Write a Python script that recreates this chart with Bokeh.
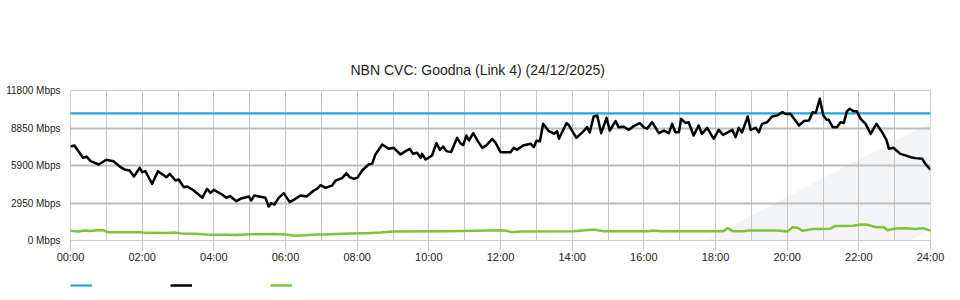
from bokeh.plotting import figure
from bokeh.layouts import column
from bokeh.models import (FixedTicker, Range1d, Legend, LegendItem, PolyAnnotation)
from bokeh.embed import file_html
from bokeh.resources import INLINE

# ---------------- data ----------------
TITLE = "NBN CVC: Goodna (Link 4) (24/12/2025)"

x_ticks = [0, 2, 4, 6, 8, 10, 12, 14, 16, 18, 20, 22, 24]
x_tick_labels = ["00:00", "02:00", "04:00", "06:00", "08:00", "10:00", "12:00",
                 "14:00", "16:00", "18:00", "20:00", "22:00", "24:00"]
y_ticks = [0, 2950, 5900, 8850, 11800]
y_tick_labels = ["0 Mbps", "2950 Mbps", "5900 Mbps", "8850 Mbps", "11800 Mbps"]

capacity_hours = [0, 24]
capacity_mbps = [10000, 10000]

traffic_hours = [
    0.00, 0.11, 0.35, 0.45, 0.56, 0.79, 1.00, 1.20, 1.40, 1.53, 1.65, 1.77, 1.93, 2.00,
    2.09, 2.28, 2.44, 2.68, 2.77, 2.93, 3.02, 3.16, 3.26, 3.44, 3.68, 3.81, 3.91, 4.00,
    4.23, 4.35, 4.45, 4.63, 4.74, 4.98, 5.04, 5.13, 5.44, 5.53, 5.60, 5.69, 5.81, 5.95,
    6.12, 6.23, 6.42, 6.59, 6.79, 6.88, 6.98, 7.12, 7.30, 7.40, 7.58, 7.70, 7.79, 7.91,
    8.01, 8.14, 8.32, 8.42, 8.51, 8.70, 8.88, 9.02, 9.21, 9.35, 9.47, 9.56, 9.67, 9.77,
    9.81, 9.91, 10.09, 10.21, 10.31, 10.40, 10.49, 10.62, 10.79, 10.88, 10.96, 11.05,
    11.12, 11.24, 11.35, 11.49, 11.61, 11.77, 11.86, 12.00, 12.28, 12.37, 12.46, 12.63,
    12.84, 12.93, 13.00, 13.10, 13.19, 13.35, 13.49, 13.58, 13.63, 13.84, 13.90, 14.12,
    14.32, 14.42, 14.49, 14.60, 14.70, 14.81, 14.96, 15.05, 15.21, 15.30, 15.44, 15.58,
    15.72, 15.89, 16.00, 16.09, 16.23, 16.42, 16.56, 16.70, 16.79, 16.88, 16.98, 17.04,
    17.16, 17.25, 17.39, 17.53, 17.62, 17.77, 17.95, 18.09, 18.21, 18.34, 18.47, 18.56,
    18.65, 18.74, 18.90, 18.98, 19.12, 19.21, 19.30, 19.44, 19.58, 19.72, 19.87, 19.96,
    20.09, 20.33, 20.47, 20.61, 20.71, 20.80, 20.91, 21.01, 21.10, 21.16, 21.27, 21.39,
    21.49, 21.58, 21.67, 21.75, 21.85, 21.94, 22.05, 22.19, 22.33, 22.49, 22.65, 22.77,
    22.84, 22.97, 23.05, 23.16, 23.30, 23.44, 23.58, 23.77, 23.86, 24.00]
traffic_mbps = [
    7395, 7473, 6505, 6600, 6250, 5979, 6348, 6240, 5768, 5560, 5507, 5035, 5717, 5375,
    5455, 4458, 5455, 4983, 5245, 4720, 4800, 4196, 4247, 3933, 3357, 4067, 3750, 3986,
    3619, 3357, 3500, 3094, 3278, 3461, 3147, 3540, 3357, 2675, 2937, 2832, 3357, 3723,
    3015, 3199, 3540, 3461, 3933, 4067, 4350, 4143, 4327, 4720, 4904, 5297, 4983, 4852,
    4950, 5507, 5979, 6050, 6766, 7552, 7212, 7290, 6766, 7029, 7212, 6818, 6900, 6505,
    6818, 6372, 6687, 7656, 7133, 7395, 7029, 6950, 8080, 7656, 7500, 8260,
    7867, 8441, 7900, 7290, 7500, 8000, 7700, 6950, 6950, 7290, 7150, 7473,
    7604, 7341, 7850, 7800, 9178, 8600, 8400, 8600, 8000, 9230, 9100, 8080,
    8600, 8915, 8500, 9755, 9833, 8441, 9650, 8653, 9387, 8900, 8950, 8705,
    9000, 9230, 8900, 8800, 9309, 8441, 8650, 8441, 9178, 8520, 8520, 9570,
    9250, 9300, 8260, 9047, 8390, 8862, 8000, 8705, 8300, 8500, 8700, 8129,
    8862, 8500, 9755, 8705, 8862, 8520, 9178, 9300, 9755, 9833, 10094, 9950,
    9963, 9047, 9400, 9440, 10094, 10050, 11147, 9833, 9500, 9492, 8915, 8915,
    9309, 9250, 10172, 10361, 10172, 10172, 9570, 9178, 8390, 9178, 8520, 7920,
    7212, 7290, 7080, 6818, 6700, 6555, 6480, 6425, 6031, 5560]

upload_hours = [
    0.00, 0.22, 0.39, 0.56, 0.73, 0.92, 1.06, 1.95, 2.09, 2.65, 2.93, 3.07, 3.49, 3.77,
    4.05, 4.33, 4.60, 4.88, 5.11, 5.72, 6.00, 6.28, 6.56, 6.84, 7.12, 7.40, 7.81, 8.23,
    8.65, 9.01, 10.52, 11.30, 12.00, 12.17, 12.33, 12.56, 14.04, 14.60, 14.87, 16.10,
    16.27, 16.47, 18.22, 18.33, 18.50, 18.78, 18.92, 19.73, 20.01, 20.15, 20.29, 20.43,
    20.73, 21.21, 21.35, 21.85, 22.05, 22.24, 22.47, 22.69, 22.80, 23.02, 23.30, 23.58,
    23.78, 24.00]
upload_mbps = [
    760, 700, 790, 740, 810, 800, 640, 640, 600, 590, 620, 560, 540, 470,
    450, 460, 430, 470, 500, 520, 470, 380, 420, 480, 470, 520, 560, 580,
    620, 700, 720, 770, 800, 760, 640, 700, 720, 860, 720, 720,
    790, 720, 720, 970, 720, 720, 790, 790, 700, 1050, 1000, 760,
    900, 930, 1150, 1160, 1260, 1240, 1050, 1060, 800, 950, 960, 900,
    970, 780]

# ---------------- styling ----------------
FONT = "Liberation Sans"
BLUE = "#22a5de"
BLACK = "#000000"
GREEN = "#80c23a"
SERIES_STYLE = [(BLUE, 2.2), (BLACK, 2.5), (GREEN, 2.5)]

W = 960
H_MAIN, H_LEG = 270, 30
LEFT, RIGHT, TOP, BOTTOM = 70, 30, 90, 30
X0, X1 = 0, 24
Y0, Y1 = 0, 11800

p = figure(width=W, height=H_MAIN, output_backend="svg", toolbar_location=None,
           x_range=Range1d(X0, X1), y_range=Range1d(Y0, Y1),
           min_border_left=LEFT, min_border_right=RIGHT,
           min_border_top=TOP, min_border_bottom=BOTTOM,
           title=TITLE)
p.background_fill_color = "white"
p.border_fill_color = "white"
p.outline_line_color = "#cccccc"
p.outline_line_width = 1

p.title.align = "left"
p.title.offset = 280
p.title.standoff = 26
p.title.text_font = FONT
p.title.text_font_size = "14px"
p.title.text_font_style = "normal"
p.title.text_color = "#222222"

# watermark (decorative background swoosh), given in canvas pixels
fw = W - LEFT - RIGHT
fh = H_MAIN - TOP - BOTTOM
def to_x(px):
    return X0 + (px - LEFT) / fw * (X1 - X0)
def to_y(py):
    return Y0 + (TOP + fh - py) / fh * (Y1 - Y0)

lobe_px = [(253, 302), (280, 283), (307, 267), (333, 253), (360, 243), (390, 238),
           (413, 238), (430, 244), (442, 258), (452, 287), (451, 302)]
band_px = [(598, 302), (680, 252), (962, 105), (962, 211), (910, 240), (800, 302)]
for shape in (lobe_px, band_px):
    p.add_layout(PolyAnnotation(xs=[to_x(a) for a, b in shape],
                                ys=[to_y(b) for a, b in shape],
                                fill_color="#f3f4f6", fill_alpha=1.0,
                                line_color=None, level="image"))

# grids
p.xgrid.ticker = FixedTicker(ticks=list(range(0, 25)))
p.xgrid.grid_line_color = "#c6c6c6"
p.xgrid.grid_line_width = 1
p.ygrid.ticker = FixedTicker(ticks=y_ticks[1:-1])
p.ygrid.grid_line_color = "#bdbdbd"
p.ygrid.grid_line_width = 2

# axes
p.xaxis.ticker = FixedTicker(ticks=x_ticks)
p.xaxis.major_label_overrides = {t: l for t, l in zip(x_ticks, x_tick_labels)}
p.xaxis.axis_line_color = "#cccccc"
p.xaxis.major_tick_line_color = "#c4c4c4"
p.xaxis.major_tick_out = 10
p.xaxis.major_tick_in = 0
p.xaxis.minor_tick_line_color = None
p.xaxis.major_label_standoff = 0
p.xaxis.major_label_text_font = FONT
p.xaxis.major_label_text_font_size = "11px"
p.xaxis.major_label_text_color = "#222222"

p.yaxis.ticker = FixedTicker(ticks=y_ticks)
p.yaxis.major_label_overrides = {t: l for t, l in zip(y_ticks, y_tick_labels)}
p.yaxis.axis_line_color = None
p.yaxis.major_tick_line_color = None
p.yaxis.minor_tick_line_color = None
p.yaxis.major_tick_out = 0
p.yaxis.major_tick_in = 0
p.yaxis.major_label_standoff = 10
p.yaxis.major_label_text_font = FONT
p.yaxis.major_label_text_font_size = "10px"
p.yaxis.major_label_text_color = "#222222"

# series
series = [(capacity_hours, capacity_mbps), (traffic_hours, traffic_mbps),
          (upload_hours, upload_mbps)]
for (xs, ys), (col, lw) in zip(series, SERIES_STYLE):
    p.line(xs, ys, line_color=col, line_width=lw, line_join="round")

# legend strip (key swatches only, no labels as in the original)
lg = figure(width=W, height=H_LEG, output_backend="svg", toolbar_location=None,
            x_range=p.x_range, y_range=Range1d(-2, -1),
            x_axis_location=None, y_axis_location=None,
            min_border_left=0, min_border_right=0, min_border_top=0, min_border_bottom=0)
lg.outline_line_color = None
lg.background_fill_color = None
lg.border_fill_color = "white"
lg.xgrid.visible = False
lg.ygrid.visible = False
items = []
for (xs, ys), (col, lw) in zip(series, SERIES_STYLE):
    r = lg.line(xs, ys, line_color=col, line_width=lw)
    items.append(LegendItem(label=" ", renderers=[r]))
legend = Legend(items=items, orientation="horizontal", location=(0, 5),
                glyph_width=22, glyph_height=20, label_standoff=0,
                label_width=78, spacing=0, padding=0, margin=0,
                border_line_color=None, background_fill_color=None,
                label_text_font=FONT, label_text_font_size="11px")
lg.add_layout(legend, "center")

open("out.html", "w").write(file_html(column(p, lg, spacing=0), INLINE))
